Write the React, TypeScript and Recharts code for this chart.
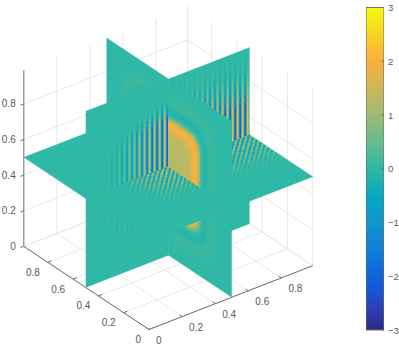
import React from "react";
import { ComposedChart, Area, Line, XAxis, YAxis } from "recharts";

const WIDTH = 399;
const HEIGHT = 351;

// ---- readings from the picture ----
const axisTicks = [0, 0.2, 0.4, 0.6, 0.8];
const LIMIT = 0.99;
const MID = 0.5;
const colorbarTicks = [-3, -2, -1, 0, 1, 2, 3];
const colorStops: [number, string][] = [
  [-3, "#2c2a82"], [-2.6, "#3040b8"], [-2.2, "#1159d8"], [-1.8, "#0f70dc"], [-1.4, "#1382d2"],
  [-1, "#1096cc"], [-0.5, "#07a9bf"], [0, "#2fb8a5"], [0.5, "#68bb8b"], [1, "#9cbb72"],
  [1.5, "#cdb75a"], [2, "#f8b03c"], [2.5, "#f9d225"], [3, "#f9f70f"],
];
const TEAL = 0;
// rings of the rounded panel on the x = 0.5 slice: radius, value
const panelRings: [number, number][] = [
  [0.385, 0.04], [0.365, 0.08], [0.345, 0.11], [0.325, 0.07], [0.31, -0.04], [0.295, -0.12], [0.282, -0.08],
  [0.27, 0.05], [0.258, 0.45], [0.248, 0.95], [0.238, 1.5], [0.228, 1.9], [0.218, 2.05], [0.205, 1.95],
  [0.192, 1.7], [0.178, 1.5], [0.16, 1.35], [0.11, 1.25],
];
const cornerProfile: [number, number][] = [
  [0, 1], [0.6, 1], [0.78, 0.98], [0.9, 0.9], [0.97, 0.8], [1, 0.65], [1, 0],
];
const STRIPE_STEP = 0.0152;
const leftWallAmp = [2.0, 2.0, 1.9, 1.9, 1.8, 1.8, 1.7, 1.6, 1.5, 1.4, 1.3, 1.2, 1.05, 0.9, 0.8, 0.7, 0.6, 0.5, 0.42, 0.35, 0.28, 0.22, 0.16, 0.12];
const leftWallTop = [0.34, 0.34, 0.335, 0.33, 0.33, 0.325, 0.32, 0.315, 0.31, 0.305, 0.3, 0.295, 0.29, 0.285, 0.28, 0.275, 0.27, 0.265, 0.26, 0.25, 0.24, 0.235, 0.23, 0.22];
const topFade: [number, number, number][] = [
  [-1, -0.06, 1], [-0.06, -0.035, 0.72], [-0.035, -0.015, 0.45], [-0.015, 0.005, 0.22], [0.005, 0.025, 0.08],
];
const rightWallBands: [number, number, number][] = [
  [0, 0.19, 2.0], [0.19, 0.23, 1.5], [0.23, 0.27, 1.1], [0.27, 0.31, 0.75], [0.31, 0.35, 0.45], [0.35, 0.4, 0.22], [0.4, 0.45, 0.08],
];
const lowerRightBands: [number, number, number][] = [
  [0, 0.12, 0.4], [0.12, 0.2, 0.28], [0.2, 0.27, 0.14],
];
const floorFade = [1.25, 1.25, 1.2, 1.18, 1.12, 1.08, 1.0, 0.92, 0.84, 0.76, 0.68, 0.6, 0.5, 0.42, 0.34, 0.27, 0.2, 0.14, 0.09, 0.05];
const floorCross = [1, 1, 1, 0.98, 0.96, 0.94, 0.9, 0.86, 0.8, 0.74, 0.68, 0.6, 0.52, 0.44, 0.36, 0.28, 0.22, 0.16, 0.1, 0.06];
const floorFarColumns = [0.9, 0.9, 0.9, 0.9, 0.9, 0.9, 0.9, 0.9, 0.9, 0.9, 0.9, 0.9, 0.9, 0.9, 0.9, 0.9, 0.9, 0.9, 0.9, 0.9, 0.9, 0.9, 0.9, 0.9, 0.9, 0.9, 0.9, 0.9, 0.9, 0.9, 0.9, 0.9];

// ---- projection of the three data coordinates on the view plane ----
const K = { ux: 165.5, uy: 64.5, vx: 126.5, vy: 84, z: 178 };
const project = (u: number, v: number, z: number) => ({
  x: u * K.ux - v * K.vx,
  y: u * K.uy + v * K.vy + z * K.z,
});
type P = { x: number; y: number };
type Layer =
  | { kind: "band"; color: string; data: { x: number; r: [number, number] }[] }
  | { kind: "line"; color: string; width: number; data: { x: number; y: number | null }[]; dash?: string };

const hexToRgb = (h: string) => [1, 3, 5].map((i) => parseInt(h.slice(i, i + 2), 16));
const valueColor = (value: number) => {
  const v = Math.max(-3, Math.min(3, value));
  for (let i = 0; i < colorStops.length - 1; i++) {
    const [a, ca] = colorStops[i];
    const [b, cb] = colorStops[i + 1];
    if (v <= b) {
      const t = (v - a) / (b - a);
      const A = hexToRgb(ca);
      const B = hexToRgb(cb);
      return `rgb(${A.map((c, k) => Math.round(c + (B[k] - c) * t)).join(",")})`;
    }
  }
  return colorStops[colorStops.length - 1][1];
};

// x-monotone band of a polygon, so that an Area can fill it
const toBand = (poly: P[]) => {
  const xs = Array.from(new Set(poly.map((p) => +p.x.toFixed(3)))).sort((a, b) => a - b);
  return xs.map((x) => {
    const ys: number[] = [];
    poly.forEach((p, i) => {
      const q = poly[(i + 1) % poly.length];
      const lo = Math.min(p.x, q.x) - 0.002;
      const hi = Math.max(p.x, q.x) + 0.002;
      if (x < lo || x > hi) return;
      if (Math.abs(p.x - q.x) < 0.002) ys.push(p.y, q.y);
      else ys.push(p.y + ((q.y - p.y) * (x - p.x)) / (q.x - p.x));
    });
    return { x, r: [Math.min(...ys), Math.max(...ys)] as [number, number] };
  });
};

const layers: Layer[] = [];
const band = (poly: P[], value: number) => layers.push({ kind: "band", color: valueColor(value), data: toBand(poly) });
const line = (pts: P[], color: string, width: number) => layers.push({ kind: "line", color, width, data: pts });

class Strokes {
  groups = new Map<string, { x: number; y: number | null }[]>();
  constructor(public width: number) {}
  add(a: P, b: P, value: number) {
    const key = valueColor(Math.round(value * 10) / 10);
    if (!this.groups.has(key)) this.groups.set(key, []);
    this.groups.get(key)!.push(a, b, { x: b.x, y: null });
  }
  flush() {
    this.groups.forEach((data, color) => layers.push({ kind: "line", color, width: this.width, data }));
  }
}

// slice x = u (a wall spanning v and z)
const wallU = (v0: number, v1: number, z0: number, z1: number) =>
  band([project(MID, v0, z0), project(MID, v1, z0), project(MID, v1, z1), project(MID, v0, z1)], TEAL);
const wallV = (u0: number, u1: number, z0: number, z1: number) =>
  band([project(u0, MID, z0), project(u1, MID, z0), project(u1, MID, z1), project(u0, MID, z1)], TEAL);
const floorQ = (u0: number, u1: number, v0: number, v1: number) =>
  band([project(u0, v0, MID), project(u1, v0, MID), project(u1, v1, MID), project(u0, v1, MID)], TEAL);

const panel = (sv: number, sz: number, rings = panelRings) => {
  rings.forEach(([r, value]) => {
    const edge = cornerProfile.map(([a, b]) => project(MID, MID + sv * a * r, MID + sz * b * r * 1.1));
    band([project(MID, MID, MID), ...edge], value);
  });
};

const leftStripes = (sz: number, scale: number) => {
  const s = new Strokes(1.7);
  leftWallAmp.forEach((amp, i) => {
    const u = MID - (i + 0.5) * STRIPE_STEP;
    const sign = i % 2 === 0 ? -1 : 1;
    topFade.forEach(([a, b, f]) => {
      const z0 = Math.max(0, leftWallTop[i] + a);
      const z1 = leftWallTop[i] + b;
      s.add(project(u, MID, MID + sz * z0), project(u, MID, MID + sz * z1), sign * amp * f * scale * (sign < 0 ? 1 : 0.8));
    });
  });
  s.flush();
};
const rightStripes = (sz: number, bands: [number, number, number][]) => {
  const s = new Strokes(1.7);
  for (let i = 0; MID + (i + 0.5) * STRIPE_STEP < LIMIT; i++) {
    const u = MID + (i + 0.5) * STRIPE_STEP;
    const sign = i % 2 === 0 ? -1 : 1;
    bands.forEach(([a, b, amp]) => s.add(project(u, MID, MID + sz * a), project(u, MID, MID + sz * b), sign * amp));
  }
  s.flush();
};
const floorCells = (su: number, columns: number[]) => {
  const s = new Strokes(1.95);
  floorFade.forEach((amp, i) => {
    const v = MID - (i + 0.5) * STRIPE_STEP;
    columns.forEach((f, j) => {
      const u0 = MID + su * j * STRIPE_STEP;
      const u1 = MID + su * (j + 1) * STRIPE_STEP;
      const sign = (i + j) % 2 === 0 ? 1 : -0.6;
      s.add(project(u0, v, MID), project(u1, v, MID), sign * amp * f);
    });
  });
  s.flush();
};

// ---- box, grid and axes ----
const GRID = "#e8e8e8";
const AXIS = "#6e6e6e";
const ends = [...axisTicks, LIMIT];
ends.forEach((t) => {
  line([project(t, 0, 0), project(t, LIMIT, 0)], GRID, 1);
  line([project(0, t, 0), project(LIMIT, t, 0)], GRID, 1);
  line([project(t, LIMIT, 0), project(t, LIMIT, LIMIT)], GRID, 1);
  line([project(LIMIT, t, 0), project(LIMIT, t, LIMIT)], GRID, 1);
});
axisTicks.forEach((t) => {
  line([project(0, LIMIT, t), project(LIMIT, LIMIT, t)], GRID, 1);
  line([project(LIMIT, 0, t), project(LIMIT, LIMIT, t)], GRID, 1);
});
line([project(0, LIMIT, 0), project(0, 0, 0)], AXIS, 1);
line([project(0, 0, 0), project(LIMIT, 0, 0)], AXIS, 1);
line([project(0, LIMIT, 0), project(0, LIMIT, LIMIT)], "#8c8c8c", 1.2);
axisTicks.forEach((t) => {
  line([project(0, t, 0), project(0.022, t, 0)], AXIS, 1);
  line([project(t, 0, 0), project(t, 0.022, 0)], AXIS, 1);
  line([project(0, LIMIT, t), project(-0.02, LIMIT, t)], AXIS, 1);
});

// ---- slices, far to near ----
wallU(MID, LIMIT, 0, MID);
wallV(MID, LIMIT, 0, MID);
rightStripes(-1, lowerRightBands);
wallV(0, MID, 0, MID);
leftStripes(-1, 0.9);
wallU(0, MID, 0, MID);
panel(-1, -1);
floorQ(MID, LIMIT, MID, LIMIT);
floorQ(0, MID, MID, LIMIT);
floorQ(MID, LIMIT, 0, MID);
floorCells(1, floorFarColumns);
floorQ(0, MID, 0, MID);
floorCells(-1, floorCross);
wallU(MID, LIMIT, MID, LIMIT);
panel(1, 1, panelRings.slice(0, 9));
wallV(MID, LIMIT, MID, LIMIT);
rightStripes(1, rightWallBands);
wallV(0, MID, MID, LIMIT);
leftStripes(1, 1);
wallU(0, MID, MID, LIMIT);
panel(-1, 1);

// ---- tick labels ----
const zLabels = axisTicks.map((t) => ({ ...project(0, LIMIT, t), text: String(t) }));
const vLabels = axisTicks.map((t) => ({ ...project(0, t, 0), text: String(t) }));
const uLabels = axisTicks.map((t) => ({ ...project(t, 0, 0), text: String(t) }));

const FONT = "'Liberation Sans', Arial, sans-serif";
const labelDot = (dx: number, dy: number, anchor: "start" | "end") => (p: any) => (
  <text key={p.index} x={p.cx + dx} y={p.cy + dy} textAnchor={anchor} dominantBaseline="central"
    fontSize={10} fontFamily={FONT} fill="#595959">
    {p.payload.text}
  </text>
);
const colorbarTick = (p: any) => (
  <text x={p.x - 1} y={p.y} textAnchor="start" dominantBaseline="central" fontSize={9.5} fontFamily={FONT} fill="#595959">
    {p.payload.value < 0 ? `\u2212${-p.payload.value}` : String(p.payload.value)}
  </text>
);

// ---- colorbar ----
const LEVELS = 64;
const colorbarLevels = Array.from({ length: LEVELS }, (_, i) => ({
  lo: -3 + (i * 6) / LEVELS,
  mid: -3 + ((i + 0.5) * 6) / LEVELS,
}));

const Z = { zIndex: 100 } as any;

export default function App() {
  return (
    <div style={{ position: "absolute", left: 0, top: 0, width: WIDTH, height: HEIGHT }}>
      <div style={{ position: "absolute", left: 0, top: 0 }}>
        <ComposedChart width={WIDTH} height={HEIGHT} margin={{ top: 0, right: 0, bottom: 0, left: 0 }}>
          <XAxis hide type="number" dataKey="x" domain={[-149, 250]} allowDataOverflow />
          <YAxis hide type="number" domain={[-21.5, 329.5]} allowDataOverflow />
          {layers.map((l, i) =>
            l.kind === "band" ? (
              <Area key={i} {...Z} data={l.data} dataKey="r" type="linear" fill={l.color} fillOpacity={1}
                stroke={l.color} strokeWidth={0.3} dot={false} activeDot={false} isAnimationActive={false} />
            ) : (
              <Line key={i} {...Z} data={l.data} dataKey="y" type="linear" stroke={l.color} strokeWidth={l.width}
                dot={false} activeDot={false} isAnimationActive={false} connectNulls={false} />
            )
          )}
          <Line {...Z} data={zLabels} dataKey="y" stroke="none" dot={labelDot(-8, 0, "end")} activeDot={false} isAnimationActive={false} />
          <Line {...Z} data={vLabels} dataKey="y" stroke="none" dot={labelDot(-8, 10, "end")} activeDot={false} isAnimationActive={false} />
          <Line {...Z} data={uLabels} dataKey="y" stroke="none" dot={labelDot(7, 11, "start")} activeDot={false} isAnimationActive={false} />
        </ComposedChart>
      </div>
      <div style={{ position: "absolute", left: 0, top: 0 }}>
        <ComposedChart width={WIDTH} height={HEIGHT} margin={{ top: 7.5, right: 0, bottom: 21, left: 366 }}>
          <XAxis hide type="number" dataKey="x" domain={[0, 1]} allowDataOverflow />
          <YAxis type="number" orientation="right" width={15} domain={[-3, 3]} ticks={colorbarTicks}
            axisLine={false} tickLine={false} tickMargin={5} tickSize={0} interval={0} tick={colorbarTick} />
          {colorbarLevels.map((l, i) => (
            <Area key={i} {...Z} data={[{ x: 0, r: [l.lo, 3] }, { x: 1, r: [l.lo, 3] }]} dataKey="r" type="linear"
              fill={valueColor(l.mid)} fillOpacity={1} stroke="none"
              dot={false} activeDot={false} isAnimationActive={false} />
          ))}
          <Line {...Z} data={[{ x: 0, y: -3 }, { x: 1, y: -3 }, { x: 1, y: 3 }, { x: 0, y: 3 }, { x: 0, y: -3 }]} dataKey="y"
            stroke="#6e6e6e" strokeWidth={1} dot={false} activeDot={false} isAnimationActive={false} />
          {colorbarTicks.map((t) => (
            <Line key={t} {...Z} data={[{ x: 0.88, y: t }, { x: 1, y: t }]} dataKey="y" stroke="#6e6e6e" strokeWidth={1}
              dot={false} activeDot={false} isAnimationActive={false} />
          ))}
        </ComposedChart>
      </div>
    </div>
  );
}
